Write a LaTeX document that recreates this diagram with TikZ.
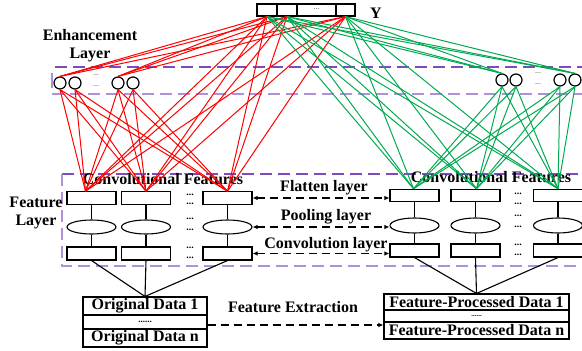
\documentclass[tikz,border=0pt]{standalone}
\usepackage{fontspec}
\setmainfont{Liberation Serif}
\usetikzlibrary{arrows.meta,shapes.geometric}
\definecolor{redl}{RGB}{255,0,0}
\definecolor{greenl}{RGB}{0,170,80}
\definecolor{dpurple}{RGB}{125,75,190}
\definecolor{lpurple}{RGB}{175,145,215}
\begin{document}
\begin{tikzpicture}[x=1pt,y=-1pt,
  cell/.style={draw,line width=1.1pt,minimum height=12pt,inner sep=0pt},
  enode/.style={circle,draw,line width=1.2pt,minimum size=12pt,inner sep=0pt},
  frect/.style={draw,line width=1.1pt,minimum width=49pt,minimum height=12.5pt,inner sep=0pt},
  fell/.style={ellipse,draw,line width=1.1pt,minimum width=49pt,minimum height=14pt,inner sep=0pt},
  lbl/.style={font=\bfseries\fontsize{16}{16}\selectfont,inner sep=0pt},
  sdots/.style={font=\bfseries\fontsize{10}{10}\selectfont,inner sep=0pt},
  edots/.style={font=\fontsize{8}{8}\selectfont,inner sep=0pt,text=black!70},
  rl/.style={draw=redl,line width=1pt},
  gl/.style={draw=greenl,line width=1pt},
  blk/.style={line width=1.1pt},
  darr/.style={dash pattern=on 8pt off 5pt,line width=1.2pt},
  pdash/.style={dash pattern=on 12pt off 6pt,line width=1.1pt},
  drow/.style={draw,line width=1.1pt,inner sep=0pt,font=\bfseries\fontsize{16}{16}\selectfont}
]
\useasboundingbox (0,0) rectangle (582,351);

% dashed layer frames
\draw[pdash,dpurple] (55,67) -- (582,67);
\draw[pdash,lpurple] (52,94) -- (582,94);
\draw[lpurple,line width=1.1pt] (52,73) -- (52,88);
\draw[pdash,dpurple] (62,174) -- (582,174);
\draw[pdash,lpurple] (62,174) -- (62,266) -- (582,266);

% Y output
\node[cell,minimum width=20pt] (Y1) at (267,10) {};
\node[cell,minimum width=20pt] (Y2) at (287,10) {};
\node[cell,minimum width=39pt] (Y3) at (316.5,10) {};
\node[cell,minimum width=19pt] (Y4) at (345.5,10) {};
\node[edots] (Yd) at (316.5,9) {...};
\node[lbl] (Ylab) at (376,13) {Y};

% Enhancement label
\node[lbl] (enh1) at (90,35) {Enhancement};
\node[lbl] (enh2) at (90,55) {Layer};

% enhancement nodes
\node[enode] (L1) at (60,83) {};
\node[enode] (L2) at (75,83) {};
\node[enode] (L3) at (118,83) {};
\node[enode] (L4) at (133,83) {};
\node[edots] (Ld1) at (96,75) {...};
\node[edots] (Ld2) at (96,86) {...};
\node[enode] (R1) at (502,80) {};
\node[enode] (R2) at (516,80) {};
\node[enode] (R3) at (560,80) {};
\node[enode] (R4) at (575,80) {};
\node[edots] (Rd1) at (538,73) {...};
\node[edots] (Rd2) at (538,84) {...};

% feature layer label
\node[lbl] (fl1) at (36,202) {Feature};
\node[lbl] (fl2) at (36,222) {Layer};
\node[lbl] (cfl) at (163,179) {Convolutional Features};
\node[lbl] (cfr) at (491,177.5) {Convolutional Features};

% left feature columns
\foreach \i/\x in {1/91.5,2/146,3/227.5}{
  \node[frect] (LT\i) at (\x,198) {};
  \node[fell] (LE\i) at (\x,227) {};
  \node[frect,minimum height=13pt] (LB\i) at (\x,253.5) {};
  \draw[blk] (LT\i) -- (LE\i) -- (LB\i);
}
% right feature columns
\foreach \i/\x in {1/414.5,2/475.5,3/558}{
  \node[frect] (RT\i) at (\x,195.5) {};
  \node[fell,minimum height=15pt] (RE\i) at (\x,225.5) {};
  \node[frect,minimum height=13pt] (RB\i) at (\x,250.5) {};
  \draw[blk] (RT\i) -- (RE\i) -- (RB\i);
}
% column dots
\foreach \y [count=\k] in {195,204,219,230,248,258}{
  \node[sdots] (lcd\k) at (190,\y) {...};
}
\foreach \y [count=\k] in {194,203.5,216,227,245,255}{
  \node[sdots] (rcd\k) at (518,\y) {...};
}

% data boxes
\node[drow,minimum width=124pt,minimum height=18pt] (OD1) at (145,306) {Original Data 1};
\node[drow,minimum width=124pt,minimum height=14pt,font=\bfseries\fontsize{9}{9}\selectfont] (ODd) at (145,322) {......};
\node[drow,minimum width=124pt,minimum height=18pt] (ODn) at (145,338) {Original Data n};
\node[drow,minimum width=185pt,minimum height=16pt] (FP1) at (476.5,302) {Feature-Processed Data 1};
\node[drow,minimum width=185pt,minimum height=12pt,font=\bfseries\fontsize{7}{7}\selectfont] (FPd) at (476.5,316) {......};
\node[drow,minimum width=185pt,minimum height=17pt] (FPn) at (476.5,330.5) {Feature-Processed Data n};

\foreach \i in {1,2,3}{
  \draw[blk] (LB\i.south) -- (OD1.north);
  \draw[blk] (RB\i.south) -- (FP1.north);
}

% middle arrows
\node[lbl] (flat) at (324,188) {Flatten layer};
\node[lbl] (pool) at (326,217) {Pooling layer};
\node[lbl] (conv) at (326,245) {Convolution layer};
\draw[darr,{Latex[length=5pt,width=4.5pt]}-{Latex[length=5pt,width=4.5pt]}] (LT3.east) -- (RT1.west |- LT3.east);
\draw[darr,{Latex[length=5pt,width=4.5pt]}-{Latex[length=5pt,width=4.5pt]}] (LE3.east) -- (RE1.west |- LE3.east);
\draw[darr,{Latex[length=5pt,width=4.5pt]}-{Latex[length=5pt,width=4.5pt]}] (LB3.east) -- (RB1.west |- LB3.east);

\node[lbl] (fext) at (293,307) {Feature Extraction};
\coordinate (fxs) at ([yshift=-3pt]ODd.east);
\draw[darr,-{Latex[length=5pt,width=4.5pt]}] (fxs) -- (FPd.west |- fxs);

% convergence points on feature rects
\coordinate (cL1) at ([xshift=-6pt]LT1.north);
\coordinate (cL2) at (LT2.north);
\coordinate (cL3) at (LT3.north);
\coordinate (cR1) at ([xshift=-1pt]RT1.north);
\coordinate (cR2) at ([xshift=1pt]RT2.north);
\coordinate (cR3) at (RT3.north);

% red connections
\foreach \y in {Y1,Y2,Y4}{
  \foreach \c in {L1,L3}{ \draw[rl] (\y.south) -- (\c.north); }
  \foreach \c in {cL1,cL2,cL3}{ \draw[rl] (\y.south) -- (\c); }
}
\foreach \e in {L1,L2,L3,L4}{
  \foreach \c in {cL1,cL2,cL3}{ \draw[rl] (\e.south) -- (\c); }
}
% green connections
\foreach \y in {Y1,Y2,Y4}{
  \foreach \c in {R1,R4}{ \draw[gl] (\y.south) -- (\c.north); }
  \foreach \c in {cR1,cR2,cR3}{ \draw[gl] (\y.south) -- (\c); }
}
\foreach \e in {R1,R2,R3,R4}{
  \foreach \c in {cR1,cR2,cR3}{ \draw[gl] (\e.south) -- (\c); }
}
\end{tikzpicture}
\end{document}
